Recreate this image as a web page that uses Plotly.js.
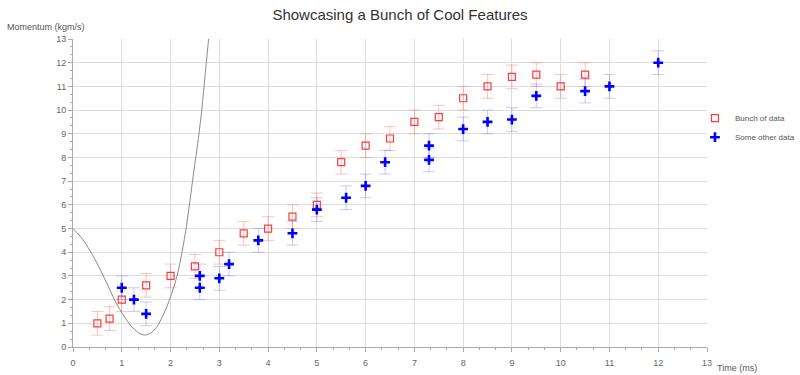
<!DOCTYPE html>
<html>
<head>
<meta charset="utf-8">
<script src="https://cdn.plot.ly/plotly-3.0.1.min.js"></script>
<style>
html,body{margin:0;padding:0;background:#fff;}
#chart{width:800px;height:375px;}
</style>
</head>
<body>
<div id="chart"></div>
<script>
// Series 1: "Bunch of data"
const bunchX = [0.5, 0.75, 1.0, 1.5, 2.0, 2.5, 3.0, 3.5, 4.0, 4.5, 5.0, 5.5, 6.0, 6.5, 7.0, 7.5, 8.0, 8.5, 9.0, 9.5, 10.0, 10.5];
const bunchY = [1.0, 1.2, 2.0, 2.6, 3.0, 3.4, 4.0, 4.8, 5.0, 5.5, 6.0, 7.8, 8.5, 8.8, 9.5, 9.7, 10.5, 11.0, 11.4, 11.5, 11.0, 11.5];
const bunchErr = [0.5, 0.5, 0.5, 0.5, 0.5, 0.5, 0.5, 0.5, 0.5, 0.5, 0.5, 0.5, 0.5, 0.5, 0.5, 0.5, 0.5, 0.5, 0.5, 0.5, 0.5, 0.5];

// Series 2: "Some other data"
const otherX = [1.0, 1.25, 1.5, 2.6, 2.6, 3.0, 3.2, 3.8, 4.5, 5.0, 5.6, 6.0, 6.4, 7.3, 7.3, 8.0, 8.5, 9.0, 9.5, 10.5, 11.0, 12.0];
const otherY = [2.5, 2.0, 1.4, 3.0, 2.5, 2.9, 3.5, 4.5, 4.8, 5.8, 6.3, 6.8, 7.8, 8.5, 7.9, 9.2, 9.5, 9.6, 10.6, 10.8, 11.0, 12.0];
const otherErr = [0.5, 0.5, 0.5, 0.5, 0.5, 0.5, 0.5, 0.5, 0.5, 0.5, 0.5, 0.5, 0.5, 0.5, 0.5, 0.5, 0.5, 0.5, 0.5, 0.5, 0.5, 0.5];

// Curve points
const curveX = [0, 0.17, 0.31, 0.44, 0.58, 0.72, 0.85, 0.99, 1.13, 1.26, 1.44, 1.58, 1.72, 1.85, 2.0, 2.13, 2.23, 2.33, 2.40, 2.47, 2.57, 2.64, 2.71, 2.78, 2.82];
const curveY = [5.0, 4.62, 4.2, 3.74, 3.18, 2.57, 2.0, 1.48, 1.05, 0.74, 0.51, 0.57, 0.86, 1.35, 2.12, 2.97, 3.95, 5.15, 6.2, 7.3, 8.8, 10.0, 11.5, 13.0, 13.9];

// Axis ticks
const tickVals = [0,1,2,3,4,5,6,7,8,9,10,11,12,13];
const tickText = ["0","1","2","3","4","5","6","7","8","9","10","11","12","13"];

const traces = [
  {
    x: curveX, y: curveY, type: 'scatter', mode: 'lines',
    line: {color: '#8a8a8a', width: 1, shape: 'spline', smoothing: 1.0},
    showlegend: false, hoverinfo: 'skip'
  },
  {
    x: bunchX, y: bunchY, type: 'scatter', mode: 'markers', name: 'Bunch of data',
    marker: {symbol: 'square-open', size: 7, color: '#ff3b3b', line: {width: 1.2, color: '#ff3b3b'}},
    error_y: {type: 'data', array: bunchErr, visible: true, color: 'rgba(255,80,80,0.35)', thickness: 1, width: 6}
  },
  {
    x: otherX, y: otherY, type: 'scatter', mode: 'markers', name: 'Some other data',
    marker: {symbol: 'cross-thin-open', size: 7, color: '#0000ff', line: {width: 2.6, color: '#0000ff'}},
    error_y: {type: 'data', array: otherErr, visible: true, color: 'rgba(80,80,255,0.3)', thickness: 1, width: 6}
  }
];

const axisCommon = {
  showgrid: true, gridcolor: '#dddddd', gridwidth: 1,
  zeroline: false, showline: true, linecolor: '#aaaaaa', linewidth: 1,
  ticks: 'outside', ticklen: 4, tickcolor: '#aaaaaa', tickwidth: 1,
  tickfont: {family: 'Liberation Sans, Arial, sans-serif', size: 9, color: '#666666'},
  tickmode: 'array', tickvals: tickVals, ticktext: tickText,
  minor: {dtick: 1/3, tick0: 0, ticks: 'outside', ticklen: 2, tickcolor: '#aaaaaa', showgrid: false}
};

const layout = {
  width: 800, height: 375,
  margin: {l: 73, r: 93, t: 39, b: 28, autoexpand: false},
  paper_bgcolor: '#ffffff', plot_bgcolor: '#ffffff',
  title: {text: 'Showcasing a Bunch of Cool Features', x: 0.5, xanchor: 'center', y: 0.962, yanchor: 'middle',
          font: {family: 'Liberation Sans, Arial, sans-serif', size: 15, color: '#333333'}},
  xaxis: Object.assign({}, axisCommon, {range: [0, 13], ticklabelstandoff: 3}),
  yaxis: Object.assign({}, axisCommon, {range: [0, 13]}),
  showlegend: true,
  legend: {x: 0.981, xanchor: 'left', y: 0.79, yanchor: 'top', bgcolor: 'rgba(0,0,0,0)',
           font: {family: 'Liberation Sans, Arial, sans-serif', size: 8, color: '#555555'},
           itemwidth: 30, tracegroupgap: 0},
  annotations: [
    {text: 'Momentum (kgm/s)', xref: 'paper', yref: 'paper', x: -0.108, y: 1.039, xanchor: 'left', yanchor: 'middle',
     showarrow: false, font: {family: 'Liberation Sans, Arial, sans-serif', size: 9, color: '#555555'}},
    {text: 'Time (ms)', xref: 'paper', yref: 'paper', x: 1.013, y: -0.068, xanchor: 'left', yanchor: 'middle',
     showarrow: false, font: {family: 'Liberation Sans, Arial, sans-serif', size: 9, color: '#555555'}}
  ]
};

Plotly.newPlot('chart', traces, layout, {staticPlot: true, displayModeBar: false});
</script>
</body>
</html>
